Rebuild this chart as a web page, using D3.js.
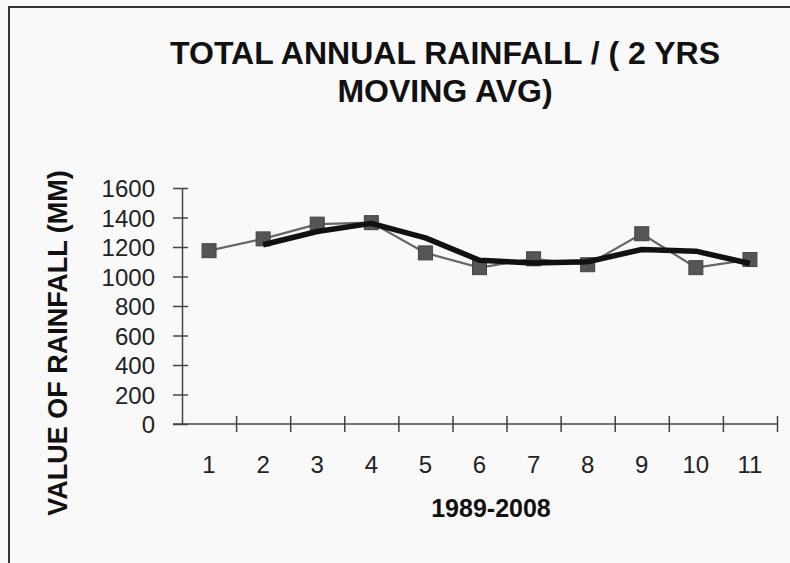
<!DOCTYPE html>
<html>
<head>
<meta charset="utf-8">
<script src="https://cdn.jsdelivr.net/npm/d3@7"></script>
<style>
	html, body { margin: 0; padding: 0; background: #f9f9f9; }
	svg { display: block; font-family: "Liberation Sans", Arial, sans-serif; }
</style>
</head>
<body>
<svg id="chart" width="790" height="563"></svg>
<script>
var years = ["1", "2", "3", "4", "5", "6", "7", "8", "9", "10", "11"];
var rainfall = [1175, 1255, 1355, 1365, 1160, 1060, 1120, 1080, 1290, 1060, 1115];
// 2 yrs moving average (no value for year 1)
var movingAvg = [null, 1215, 1305, 1360, 1262, 1110, 1092, 1100, 1183, 1172, 1088];
var yTicks = [0, 200, 400, 600, 800, 1000, 1200, 1400, 1600];
var titleLines = ["TOTAL ANNUAL RAINFALL / ( 2 YRS", "MOVING AVG)"];

var svg = d3.select("#chart");
var plotLeft = 182, plotRight = 777, plotTop = 188, plotBottom = 424;

// outer frame (only left and top edges are in view)
svg.append("path")
	.attr("d", "M9,563V7H790")
	.attr("fill", "none")
	.attr("stroke", "#333")
	.attr("stroke-width", 2);

var x = d3.scaleBand().domain(years).range([plotLeft, plotRight]).padding(0);
var xEdge = d3.scaleLinear().domain([0, years.length]).range([plotLeft, plotRight]);
var y = d3.scaleLinear().domain([0, 1600]).range([plotBottom, plotTop]);

// y axis
var yAxis = svg.append("g")
	.attr("transform", "translate(" + plotLeft + ",0)")
	.call(d3.axisLeft(y).tickValues(yTicks).tickSize(9).tickSizeOuter(0).tickFormat(d3.format("d")));
yAxis.select(".domain").attr("stroke", "#444").attr("stroke-width", 1.5);
yAxis.selectAll(".tick line").attr("x2", -9).attr("x1", 6).attr("stroke", "#444").attr("stroke-width", 1.5);
yAxis.selectAll(".tick text")
	.attr("x", -27).attr("dy", "0.36em")
	.attr("font-size", 24).attr("fill", "#222")
	.attr("font-family", "Liberation Sans, Arial, sans-serif");

// x axis line and boundary ticks
svg.append("line")
	.attr("x1", 173).attr("x2", plotRight)
	.attr("y1", y(0)).attr("y2", y(0))
	.attr("stroke", "#444").attr("stroke-width", 1.5);
var xTickAxis = svg.append("g")
	.attr("transform", "translate(0," + y(0) + ")")
	.call(d3.axisBottom(xEdge).tickValues(d3.range(1, years.length + 1)).tickSize(8).tickFormat(""));
xTickAxis.select(".domain").remove();
xTickAxis.selectAll(".tick line").attr("y1", -8).attr("stroke", "#444").attr("stroke-width", 1.5);

var xAxis = svg.append("g")
	.attr("transform", "translate(0," + y(0) + ")")
	.call(d3.axisBottom(x).tickSize(0));
xAxis.select(".domain").remove();
xAxis.selectAll(".tick text")
	.attr("y", 49).attr("dy", 0)
	.attr("font-size", 24).attr("fill", "#222")
	.attr("font-family", "Liberation Sans, Arial, sans-serif");

// rainfall line + square markers
var line = d3.line()
	.defined(function (d) { return d.v != null; })
	.x(function (d) { return x(d.year) + x.bandwidth() / 2; })
	.y(function (d) { return y(d.v); });

var rainData = years.map(function (yr, i) { return { year: yr, v: rainfall[i] }; });
var avgData = years.map(function (yr, i) { return { year: yr, v: movingAvg[i] }; });

svg.append("path")
	.datum(rainData)
	.attr("d", line)
	.attr("fill", "none")
	.attr("stroke", "#666")
	.attr("stroke-width", 2.2);

svg.append("g").selectAll("rect")
	.data(rainData)
	.enter().append("rect")
	.attr("x", function (d) { return x(d.year) + x.bandwidth() / 2 - 7; })
	.attr("y", function (d) { return y(d.v) - 7; })
	.attr("width", 14)
	.attr("height", 14)
	.attr("fill", "#555")
	.attr("stroke", "#444")
	.attr("stroke-width", 1);

svg.append("path")
	.datum(avgData)
	.attr("d", line)
	.attr("fill", "none")
	.attr("stroke", "#111")
	.attr("stroke-width", 5.5)
	.attr("stroke-linejoin", "round");

// title
svg.append("g").selectAll("text")
	.data(titleLines)
	.enter().append("text")
	.attr("x", 445)
	.attr("y", function (d, i) { return 64 + i * 38; })
	.attr("text-anchor", "middle")
	.attr("font-size", 32)
	.attr("font-weight", "bold")
	.attr("fill", "#111")
	.text(function (d) { return d; });

// axis titles
svg.append("text")
	.attr("x", 491)
	.attr("y", 517)
	.attr("text-anchor", "middle")
	.attr("font-size", 25)
	.attr("font-weight", "bold")
	.attr("fill", "#111")
	.text("1989-2008");

svg.append("text")
	.attr("transform", "translate(67,343) rotate(-90)")
	.attr("text-anchor", "middle")
	.attr("font-size", 27)
	.attr("font-weight", "bold")
	.attr("fill", "#111")
	.text("VALUE OF RAINFALL (MM)");
</script>
</body>
</html>
